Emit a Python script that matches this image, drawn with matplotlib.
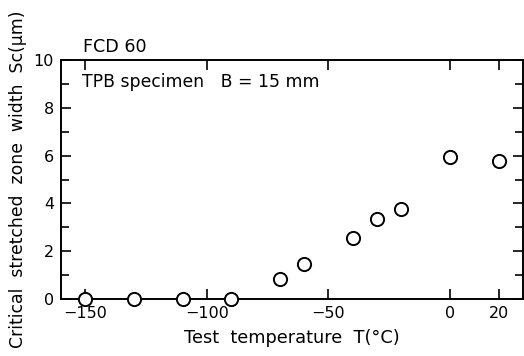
import matplotlib
matplotlib.use("Agg")
import matplotlib.pyplot as plt
from matplotlib.ticker import MultipleLocator

temperature = [-150, -130, -110, -90, -70, -60, -40, -30, -20, 0, 20]
sc_width = [0.0, 0.0, 0.0, 0.02, 0.85, 1.45, 2.54, 3.35, 3.75, 5.95, 5.76]
x_ticks = [-150, -100, -50, 0, 20]
x_tick_labels = ["\u2212150", "\u2212100", "\u221250", "0", "20"]
y_ticks = [0, 2, 4, 6, 8, 10]

plt.rcParams['font.family'] = ['DejaVu Sans']
fig = plt.figure(figsize=(5.24, 3.56), dpi=100)
ax = fig.add_axes([0.1164, 0.160, 0.8816, 0.671])

ax.plot(temperature, sc_width, linestyle='none', marker='o', markersize=9.5,
        markerfacecolor='white', markeredgecolor='black', markeredgewidth=1.4,
        clip_on=False, zorder=5)

ax.set_xlim(-160, 30)
ax.set_ylim(0, 10)
ax.set_xticks(x_ticks)
ax.set_xticklabels(x_tick_labels)
ax.set_yticks(y_ticks)
ax.yaxis.set_minor_locator(MultipleLocator(1))
ax.tick_params(axis='both', which='major', direction='in', length=7, width=1.2,
               top=True, right=True, labelsize=11.5, pad=5)
ax.tick_params(axis='y', which='minor', direction='in', length=6, width=1.2,
               right=True)
for s in ax.spines.values():
    s.set_linewidth(1.4)

ax.set_xlabel("Test  temperature  T(\u00b0C)", fontsize=12.8, labelpad=6)
ax.set_ylabel("Critical  stretched  zone  width  Sc(\u03bcm)", fontsize=12.4, labelpad=5)

fig.text(83/524, 1 - 52/356, "FCD 60", fontsize=12.6, ha='left', va='baseline')
fig.text(82/524, 1 - 87/356, "TPB specimen   B = 15 mm", fontsize=12.4, ha='left', va='baseline')

fig.savefig("out.png", dpi=100)
